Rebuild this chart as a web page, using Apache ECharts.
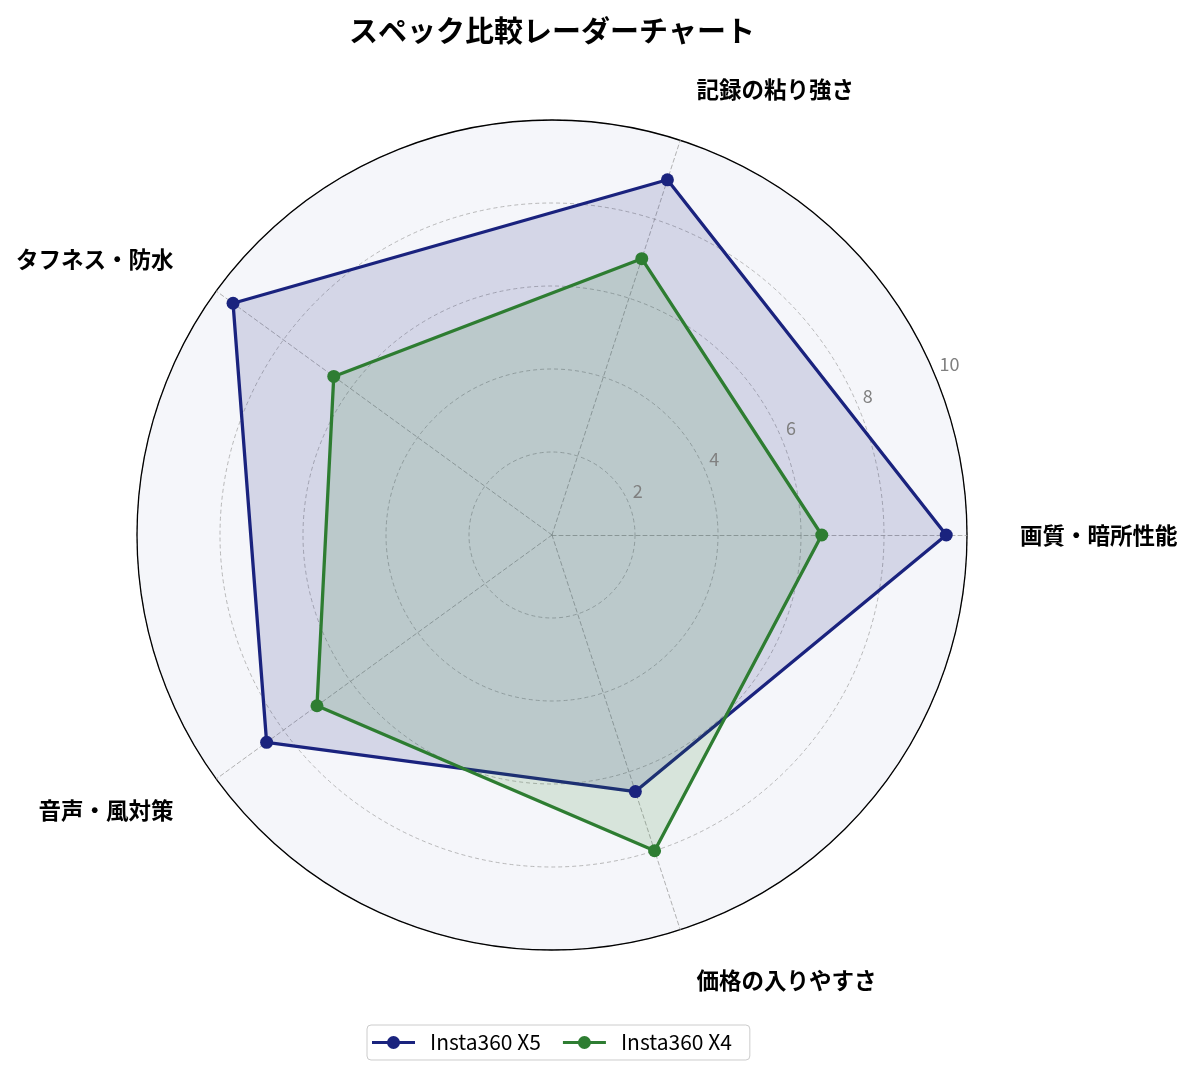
<!DOCTYPE html>
<html>
<head>
<meta charset="utf-8">
<script src="https://cdn.jsdelivr.net/npm/echarts@6/dist/echarts.min.js"></script>
<style>
html,body{margin:0;padding:0;background:#fff;}
#chart{width:1194px;height:1075px;}
</style>
</head>
<body>
<div id="chart"></div>
<script>
const titleText = 'スペック比較レーダーチャート';
const categories = ['画質・暗所性能', '記録の粘り強さ', 'タフネス・防水', '音声・風対策', '価格の入りやすさ'];
const seriesNames = ['Insta360 X5', 'Insta360 X4'];
const x5Values = [9.5, 9.0, 9.5, 8.5, 6.5];
const x4Values = [6.5, 7.0, 6.5, 7.0, 8.0];
const radialTicks = [0, 2, 4, 6, 8, 10];

const FONT = 'Noto Sans CJK JP';
const CENTER = [552, 535];
const RADIUS = 415;
const colors = ['#1a237e', '#2e7d32'];
const fills = ['rgba(26,35,126,0.15)', 'rgba(46,125,50,0.15)'];
// legend icon: a line with a circle marker in the middle (43 x 13 units)
const lineMarkerIcon = 'path://M0,5.0 L43,5.0 L43,8.0 L0,8.0 Z M28,6.5 A6.5,6.5 0 1,1 15,6.5 A6.5,6.5 0 1,1 28,6.5 Z';

const chart = echarts.init(document.getElementById('chart'), null, {renderer: 'canvas'});
const option = {
  backgroundColor: '#ffffff',
  animation: false,
  textStyle: {fontFamily: FONT},
  title: {
    text: titleText,
    left: 547,
    textAlign: 'center',
    top: 11,
    textStyle: {fontFamily: FONT, fontSize: 29, fontWeight: 'bold', color: '#000'}
  },
  legend: {
    data: seriesNames.map((n, i) => ({name: n, icon: lineMarkerIcon, itemStyle: {color: colors[i]}})),
    left: 367,
    top: 1025,
    orient: 'horizontal',
    itemWidth: 43,
    itemHeight: 13,
    itemGap: 22,
    padding: [7, 18, 7, 5],
    borderColor: '#cccccc',
    borderWidth: 1,
    borderRadius: 4,
    textStyle: {fontFamily: FONT, fontSize: 21, color: '#000', padding: [0, 0, 0, 10]}
  },
  radar: {
    center: CENTER,
    radius: RADIUS,
    startAngle: 0,
    shape: 'circle',
    splitNumber: 5,
    indicator: categories.map(name => ({name: name, min: radialTicks[0], max: radialTicks[radialTicks.length - 1]})),
    axisNameGap: 53,
    axisName: {color: '#000', fontFamily: FONT, fontSize: 22.5, fontWeight: 'bold'},
    axisLine: {lineStyle: {color: '#9e9e9e', type: [4, 3], width: 0.8}},
    splitLine: {lineStyle: {color: '#a8a8a8', type: [4, 3], width: 0.8}},
    splitArea: {show: true, areaStyle: {color: ['#f5f6fa']}},
    axisTick: {show: false},
    axisLabel: {show: false}
  },
  polar: {center: CENTER, radius: RADIUS},
  angleAxis: {
    type: 'value', min: 0, max: 360, startAngle: 22.5,
    axisLine: {show: true, lineStyle: {color: '#000', width: 1.3}},
    axisTick: {show: false}, axisLabel: {show: false}, splitLine: {show: false}
  },
  radiusAxis: {
    type: 'value', min: radialTicks[0], max: radialTicks[radialTicks.length - 1], interval: 2,
    axisLine: {show: false}, axisTick: {show: false}, splitLine: {show: false},
    axisLabel: {
      show: true, color: '#808080', fontSize: 18, fontFamily: FONT,
      align: 'left', verticalAlign: 'bottom', margin: 0, padding: [0, 0, 3, 4],
      formatter: v => (v === 0 ? '' : String(v))
    },
    z: 10
  },
  series: [{
    type: 'radar',
    symbol: 'circle',
    symbolSize: 13,
    data: [
      {name: seriesNames[0], value: x5Values,
       itemStyle: {color: colors[0]}, lineStyle: {color: colors[0], width: 3.3},
       areaStyle: {color: fills[0], opacity: 1}},
      {name: seriesNames[1], value: x4Values,
       itemStyle: {color: colors[1]}, lineStyle: {color: colors[1], width: 3.3},
       areaStyle: {color: fills[1], opacity: 1}}
    ]
  }]
};
chart.setOption(option);
</script>
</body>
</html>
